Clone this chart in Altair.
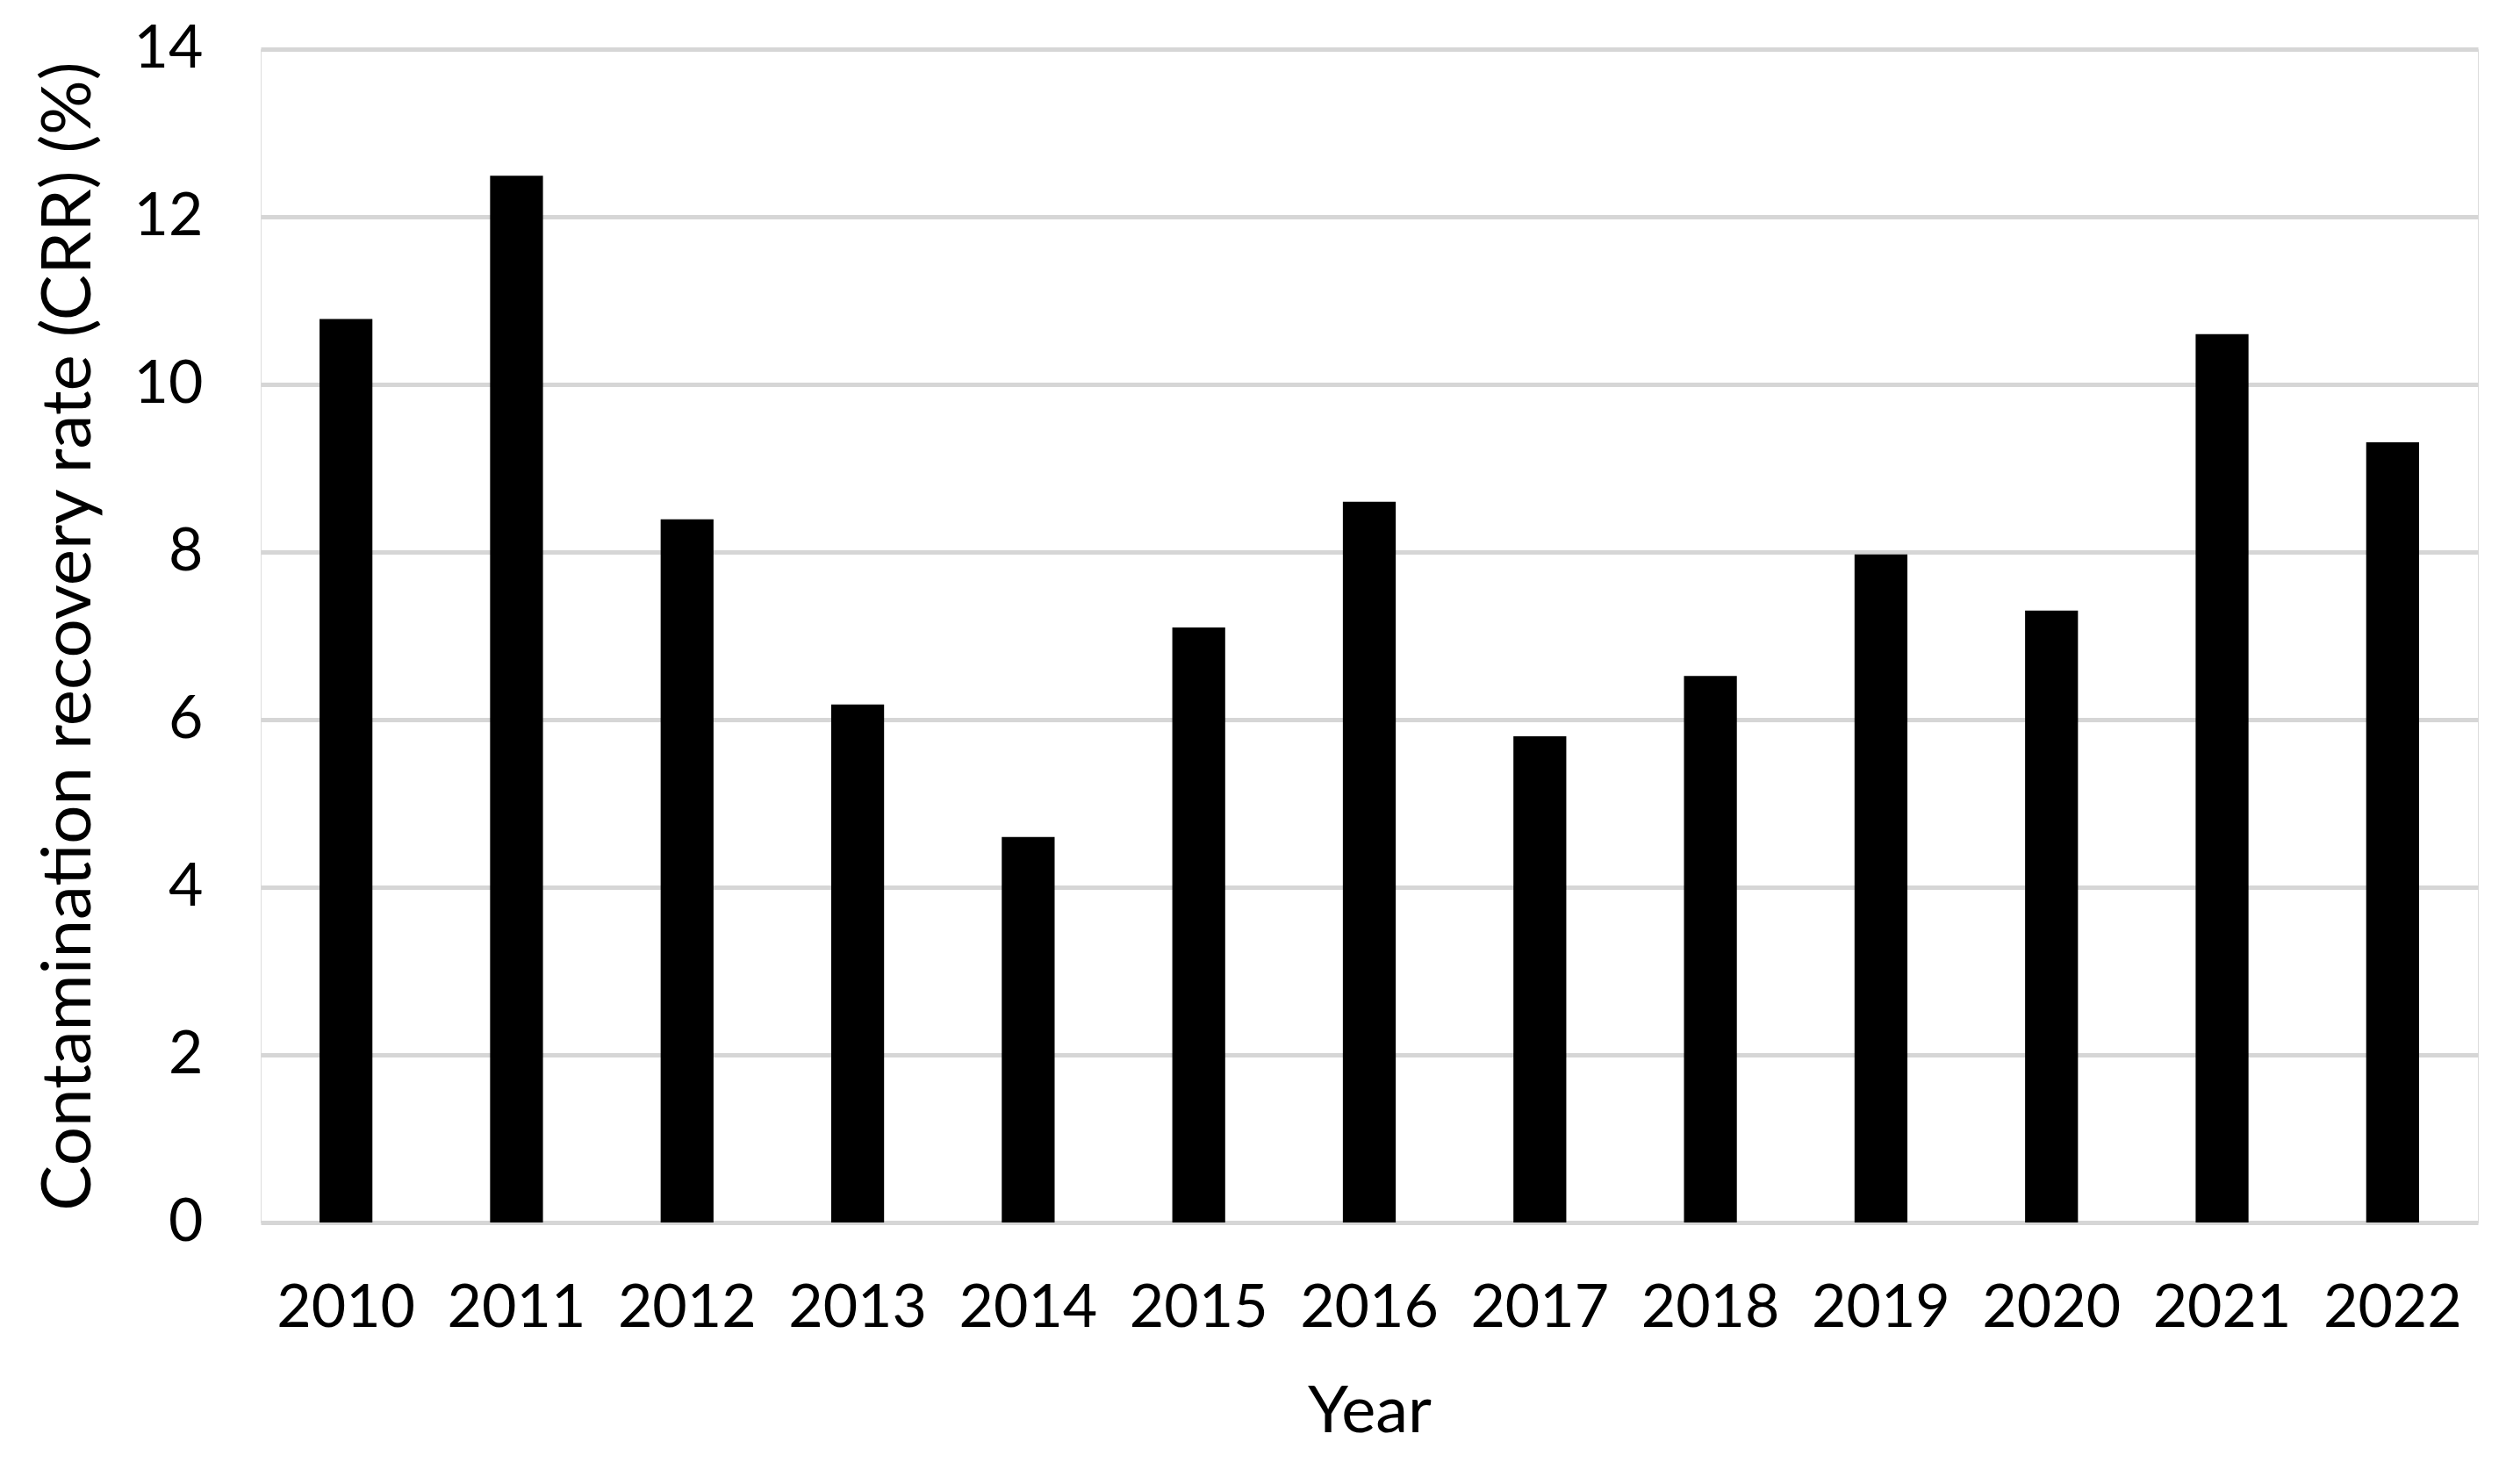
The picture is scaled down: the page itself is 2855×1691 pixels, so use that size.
import altair as alt
import pandas as pd

years = ["2010", "2011", "2012", "2013", "2014", "2015", "2016",
         "2017", "2018", "2019", "2020", "2021", "2022"]
crr = [10.78, 12.49, 8.39, 6.18, 4.60, 7.10, 8.60, 5.80, 6.52, 7.97, 7.30, 10.60, 9.31]
y_ticks = [0, 2, 4, 6, 8, 10, 12, 14]

df = pd.DataFrame({"Year": years, "CRR": crr})

FONT = "Lato"

chart = alt.Chart(df).mark_bar(color="#000000").encode(
    x=alt.X("Year:N", sort=years,
            scale=alt.Scale(paddingInner=0.69, paddingOuter=0.345),
            axis=alt.Axis(title="Year", labelAngle=0, domain=False, ticks=False,
                          labelPadding=64, labelFontSize=68, labelFont=FONT,
                          labelColor="#000000", titleFontSize=74, titleFont=FONT,
                          titleFontWeight="normal", titleColor="#000000",
                          titlePadding=48)),
    y=alt.Y("CRR:Q", scale=alt.Scale(domain=[0, 14], nice=False),
            axis=alt.Axis(title="Contamination recovery rate (CRR) (%)",
                          values=y_ticks, domain=False, ticks=False,
                          labelPadding=66, labelFontSize=68, labelFont=FONT,
                          labelColor="#000000", titleFontSize=78, titleFont=FONT,
                          titleFontWeight="normal", titleColor="#000000",
                          titlePadding=34, gridColor="#d6d6d6", gridWidth=5)),
).properties(
    width=2526, height=1337,
    autosize=alt.AutoSizeParams(type="none"),
    padding={"left": 289, "top": 48, "right": 24, "bottom": 280},
).configure_view(stroke=None).configure(background="#ffffff")

chart.save("out.html", embed_options={"renderer": "svg", "actions": False})
